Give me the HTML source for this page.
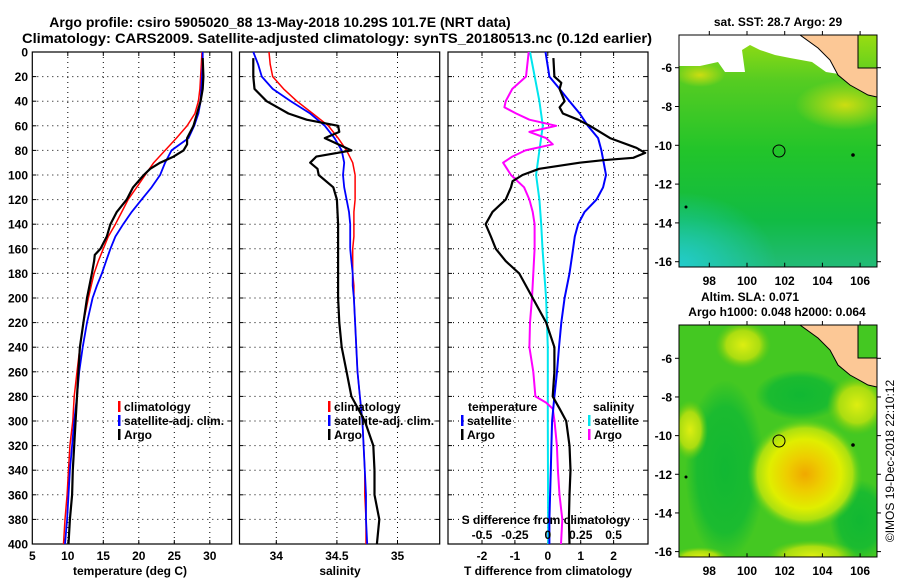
<!DOCTYPE html>
<html><head><meta charset="utf-8"><style>
html,body{margin:0;padding:0;background:#fff;}
svg{display:block;font-family:"Liberation Sans",Arial,sans-serif;font-weight:bold;}
</style></head><body>
<svg id="fig" width="900" height="580" viewBox="0 0 900 580">
<defs>
<linearGradient id="sstg" x1="0" y1="0" x2="0" y2="1">
<stop offset="0" stop-color="#99dd11"/><stop offset="0.2" stop-color="#55cc22"/><stop offset="0.5" stop-color="#22c42a"/><stop offset="0.8" stop-color="#11bb44"/><stop offset="1" stop-color="#22bb77"/></linearGradient>
<radialGradient id="cyanblob" cx="0" cy="1" r="0.7"><stop offset="0" stop-color="#22cccc"/><stop offset="1" stop-color="#22cccc" stop-opacity="0"/></radialGradient>
<radialGradient id="ylw" cx="0.5" cy="0.5" r="0.5"><stop offset="0" stop-color="#ccdd11"/><stop offset="1" stop-color="#ccdd11" stop-opacity="0"/></radialGradient>
<radialGradient id="eddy" cx="0.5" cy="0.5" r="0.5"><stop offset="0" stop-color="#f0a800"/><stop offset="0.3" stop-color="#eecc00"/><stop offset="0.62" stop-color="#e0ee00"/><stop offset="0.82" stop-color="#aae011"/><stop offset="1" stop-color="#44cc22" stop-opacity="0"/></radialGradient>
<radialGradient id="ylw2" cx="0.5" cy="0.5" r="0.5"><stop offset="0" stop-color="#ddee11"/><stop offset="0.6" stop-color="#aadd11"/><stop offset="1" stop-color="#66cc11" stop-opacity="0"/></radialGradient>
<radialGradient id="dkg" cx="0.5" cy="0.5" r="0.5"><stop offset="0" stop-color="#11b833"/><stop offset="0.7" stop-color="#11b833" stop-opacity="0.8"/><stop offset="1" stop-color="#11b833" stop-opacity="0"/></radialGradient>
<clipPath id="clipTop"><rect x="679" y="35" width="198" height="232"/></clipPath>
<clipPath id="clipBot"><rect x="679" y="325" width="198" height="232"/></clipPath>
</defs>
<g>
<text x="280" y="27" font-size="14" text-anchor="middle">Argo profile: csiro 5905020_88 13-May-2018 10.29S 101.7E (NRT data)</text>
<text x="22" y="43" font-size="14" textLength="630" lengthAdjust="spacingAndGlyphs">Climatology: CARS2009. Satellite-adjusted climatology: synTS_20180513.nc (0.12d earlier)</text>
</g>
<g id="panels"></g>

<!-- SST map -->
<g>
<text x="778" y="26" font-size="12" text-anchor="middle">sat. SST: 28.7 Argo: 29</text>
<g clip-path="url(#clipTop)">
<rect x="679" y="35" width="198" height="232" fill="url(#sstg)"/>
<rect x="679" y="160" width="140" height="107" fill="url(#cyanblob)"/>
<ellipse cx="845" cy="105" rx="50" ry="25" fill="url(#ylw)"/>
<ellipse cx="700" cy="75" rx="25" ry="12" fill="url(#ylw)"/>
<polygon points="679,35 800,35 840,62 845,75 826,72 812,62 790,58 775,55 760,50 750,45 742,50 745,72 725,72 718,62 700,66 690,66 679,66" fill="#fff"/>
<polygon points="800,35 858,35 858,68 877,68 877,97 868,95 850,85 838,75 830,60 818,48" fill="#fcc896" stroke="#000" stroke-width="1"/>
</g>
<rect x="679" y="35" width="198" height="232" fill="none" stroke="#000"/>
<circle cx="779" cy="151" r="6" fill="none" stroke="#000"/>
<circle cx="853" cy="155" r="1.8" fill="#000"/><circle cx="686" cy="207" r="1.5" fill="#000"/>
</g>
<!-- SLA map -->
<g>
<text x="750" y="301" font-size="12" text-anchor="middle">Altim. SLA: 0.071</text>
<text x="777" y="316" font-size="12" text-anchor="middle">Argo h1000: 0.048 h2000: 0.064</text>
<g clip-path="url(#clipBot)">
<rect x="679" y="325" width="198" height="232" fill="#44c822"/>
<ellipse cx="725" cy="470" rx="40" ry="90" fill="url(#dkg)"/>
<ellipse cx="800" cy="395" rx="45" ry="25" fill="url(#dkg)"/>
<ellipse cx="860" cy="520" rx="30" ry="40" fill="url(#dkg)"/>
<ellipse cx="743" cy="345" rx="28" ry="24" fill="url(#ylw2)"/>
<ellipse cx="690" cy="430" rx="18" ry="30" fill="url(#ylw2)"/>
<ellipse cx="857" cy="405" rx="30" ry="30" fill="url(#ylw2)"/>
<ellipse cx="812" cy="556" rx="45" ry="16" fill="url(#ylw2)"/>
<ellipse cx="700" cy="557" rx="28" ry="10" fill="url(#ylw2)"/>
<ellipse cx="805" cy="474" rx="58" ry="56" fill="url(#eddy)"/>
<polygon points="800,325 858,325 858,358 877,358 877,387 868,385 850,375 838,365 830,350 818,338" fill="#fcc896" stroke="#000" stroke-width="1"/>
</g>
<rect x="679" y="325" width="198" height="232" fill="none" stroke="#000"/>
<circle cx="779" cy="441" r="6" fill="none" stroke="#000"/>
<circle cx="853" cy="445" r="1.8" fill="#000"/><circle cx="686" cy="477" r="1.5" fill="#000"/>
</g>
<text transform="translate(894,461) rotate(-90)" font-size="12" font-weight="normal" text-anchor="middle">©IMOS 19-Dec-2018 22:10:12</text>
</svg>
<script>
// ---- data ----
const depths = [0,10,20,30,40,50,60,70,80,90,100,110,120,130,140,150,160,170,180,190,200,220,240,260,280,300,320,340,360,380,400];
const tempClim = [28.9,28.8,28.7,28.6,28.4,27.9,26.8,25.3,23.7,22.1,20.9,19.7,18.5,17.6,16.7,15.7,15.0,14.3,13.7,13.3,12.9,12.2,11.7,11.3,10.9,10.7,10.3,10.1,9.9,9.6,9.4];
const tempSat = [29.0,29.0,28.9,28.8,28.7,28.4,27.8,27.0,24.6,23.7,23.0,21.8,20.4,19.0,17.8,16.7,16.0,15.4,14.8,14.1,13.5,12.7,12.1,11.6,11.3,10.9,10.6,10.3,10.1,9.9,9.6];
const argoDepths = [5,20,30,40,50,60,70,75,80,85,90,95,100,110,120,130,140,150,160,165,170,180,200,220,240,260,280,300,320,340,360,380,400];
const tempArgo = [29.0,29.1,29.0,28.7,28.2,27.7,26.8,26.8,26.3,24.9,23.0,21.6,20.7,19.2,18.3,16.9,16.0,15.5,14.6,13.8,13.7,13.4,12.7,12.2,11.7,11.5,11.3,11.1,10.9,10.7,10.6,10.3,10.1];
const salClim = [33.94,33.95,33.97,34.06,34.17,34.30,34.43,34.51,34.58,34.63,34.65,34.65,34.65,34.64,34.64,34.64,34.63,34.63,34.63,34.64,34.64,34.65,34.66,34.67,34.69,34.71,34.72,34.73,34.73,34.74,34.74];
const salSat = [33.81,33.85,33.88,33.97,34.12,34.28,34.40,34.48,34.54,34.56,34.55,34.56,34.58,34.60,34.61,34.61,34.61,34.62,34.63,34.63,34.64,34.65,34.66,34.67,34.69,34.71,34.72,34.73,34.74,34.74,34.75];
const salArgoDepths = [5,20,30,35,40,45,50,55,60,65,70,75,80,85,90,95,100,110,120,140,160,180,200,220,240,260,280,300,320,340,360,380,400];
const salArgo = [33.81,33.81,33.82,33.87,33.92,34.01,34.10,34.25,34.51,34.52,34.40,34.51,34.62,34.33,34.28,34.34,34.35,34.47,34.50,34.51,34.51,34.51,34.51,34.52,34.54,34.58,34.62,34.73,34.80,34.81,34.81,34.85,34.83];
const dTSatDepths = [0,20,30,40,50,60,70,80,90,100,110,120,130,140,150,160,180,200,220,240,260,280,300,320,340,360,380,400];
const dTSat = [-0.07,0.05,0.36,0.66,0.97,1.22,1.53,1.63,1.70,1.77,1.68,1.48,1.12,0.92,0.82,0.77,0.66,0.51,0.41,0.34,0.28,0.20,0.13,0.11,0.09,0.07,0.05,0.05];
const dTArgoDepths = [5,20,25,30,40,45,50,55,60,70,78,82,86,88,90,95,100,105,110,120,130,140,150,160,170,180,200,220,240,260,280,290,300,320,340,360,380,400];
const dTArgo = [0.17,0.20,0.41,0.36,0.51,0.36,0.46,0.92,1.28,1.89,2.70,2.96,2.60,1.68,0.97,-0.26,-0.77,-1.07,-1.12,-1.28,-1.68,-1.89,-1.73,-1.58,-1.28,-0.87,-0.46,-0.05,0.20,0.20,0.15,0.36,0.56,0.66,0.69,0.66,0.64,0.66];
const dSArgoDepths = [0,20,30,40,45,50,55,60,65,70,75,80,85,90,100,110,120,130,140,160,180,200,220,240,260,280,285,290,300,320,340,360,380,400];
const dSArgo = [-0.145,-0.166,-0.27,-0.32,-0.33,-0.24,-0.14,0.064,-0.14,-0.013,0.038,-0.17,-0.27,-0.34,-0.28,-0.18,-0.14,-0.115,-0.10,-0.10,-0.11,-0.12,-0.135,-0.14,-0.11,-0.094,-0.013,0.038,0.051,0.069,0.077,0.089,0.11,0.10];
const dSSatDepths = [0,40,60,80,100,120,140,160,200,240,280,300,400];
const dSSat = [-0.135,-0.064,-0.038,-0.064,-0.089,-0.064,-0.05,-0.04,-0.013,0,0,0,0.003];
const depthTicks = [0,20,40,60,80,100,120,140,160,180,200,220,240,260,280,300,320,340,360,380,400];
const tempTicks = [5,10,15,20,25,30];
const salTicks = [34,34.5,35];
const salTickLabels = ["34","34.5","35"];
const dTTicks = [-2,-1,0,1,2];
const dSTicks = [-0.5,-0.25,0,0.25,0.5];
const dSTickLabels = ["-0.5","-0.25","0","0.25","0.5"];
const mapLons = [98,100,102,104,106];
const mapLats = [-6,-8,-10,-12,-14,-16];

// ---- scales ----
const top0 = 52, bot0 = 544;
function yDepth(d){ return top0 + (d/400)*(bot0-top0); }
function xTemp(t){ return 32.3 + (t-5)*7.1; }
function xSal(s){ return 276.3 + (s-34)*121.2; }
function xDT(t){ return 547.8 + t*32.9; }
function xDS(s){ return xDT(s*4); }
function xLon(l){ return 709.3 + (l-98)*18.85; }
function yLatTop(l){ return 67.7 + (-6-l)*19.4; }
function yLatBot(l){ return 358.3 + (-6-l)*19.33; }

const NS = "http://www.w3.org/2000/svg";
const root = document.getElementById('panels');
function el(tag, attrs, parent){ const e=document.createElementNS(NS,tag); for(const k in attrs) e.setAttribute(k,attrs[k]); (parent||root).appendChild(e); return e; }
function txt(x,y,s,size,anchor,parent){ const t=el('text',{x:x,y:y,'font-size':size,'text-anchor':anchor||'start'},parent); t.textContent=s; return t; }

function panel(name){
  const g = el('g',{});
  
  
  return g;
}
function frame(g,x0,x1,vticks){
  depthTicks.forEach(d=>{ if(d>0&&d<400){ const y=yDepth(d);
    const l=el('line',{x1:x0,x2:x1,y1:y,y2:y,stroke:'#000','stroke-width':1,'stroke-dasharray':'1,4'},g);
     
    el('line',{x1:x0,x2:x0+4,y1:y,y2:y,stroke:'#000'},g); el('line',{x1:x1-4,x2:x1,y1:y,y2:y,stroke:'#000'},g);} });
  vticks.forEach(x=>{ if(x>x0+1&&x<x1-1){
    const l=el('line',{x1:x,x2:x,y1:top0,y2:bot0,stroke:'#000','stroke-width':1,'stroke-dasharray':'1,4'},g);
     
    el('line',{x1:x,x2:x,y1:bot0-4,y2:bot0,stroke:'#000'},g); el('line',{x1:x,x2:x,y1:top0,y2:top0+4,stroke:'#000'},g);} });
  const r=el('rect',{x:x0,y:top0,width:x1-x0,height:bot0-top0,fill:'none',stroke:'#000','stroke-width':1.2},g);
   
}
function line(g,ds,vs,xf,color,w,name){
  const pts = ds.map((d,i)=>xf(vs[i]).toFixed(1)+','+yDepth(d).toFixed(1)).join(' ');
  const p=el('polyline',{points:pts,fill:'none',stroke:color,'stroke-width':w,'stroke-linejoin':'round'},g);
  
  
}
function legendRow(g,x,y,color,label){
  if(color) el('rect',{x:x,y:y-10,width:2.5,height:11,fill:color},g);
  const t=txt(x+(color?6:0),y,label,12,'start',g);
   
}

// depth labels
const yl = panel('depth-axis');
depthTicks.forEach(d=>{ const t=txt(28,yDepth(d)+4.5,String(d),12,'end',yl);
    });

// panel 1 temperature
const p1 = panel('temperature-panel');
frame(p1,32.3,231.7,tempTicks.map(xTemp));
line(p1,depths,tempClim,xTemp,'#f00',1.5,'climatology-temperature-line');
line(p1,depths,tempSat,xTemp,'#00f',1.8,'satellite-temperature-line');
line(p1,argoDepths,tempArgo,xTemp,'#000',2.2,'argo-temperature-line');
tempTicks.forEach(t=>{ const e=txt(xTemp(t),560,String(t),12,'middle',p1);   });
{const e=txt(130,575,'temperature (deg C)',12,'middle',p1);  }
legendRow(p1,118,411,'#f00','climatology');
legendRow(p1,118,425,'#00f','satellite-adj. clim.');
legendRow(p1,118,439,'#000','Argo');

// panel 2 salinity
const p2 = panel('salinity-panel');
frame(p2,239.5,439.7,salTicks.map(xSal));
line(p2,depths,salClim,xSal,'#f00',1.5,'climatology-salinity-line');
line(p2,depths,salSat,xSal,'#00f',1.8,'satellite-salinity-line');
line(p2,salArgoDepths,salArgo,xSal,'#000',2.2,'argo-salinity-line');
salTicks.forEach((s,i)=>{ const e=txt(xSal(s),560,salTickLabels[i],12,'middle',p2);   });
{const e=txt(340,575,'salinity',12,'middle',p2);  }
legendRow(p2,328,411,'#f00','climatology');
legendRow(p2,328,425,'#00f','satellite-adj. clim.');
legendRow(p2,328,439,'#000','Argo');

// panel 3 differences
const p3 = panel('difference-panel');
frame(p3,448,648,dTTicks.map(xDT));
line(p3,dSSatDepths,dSSat,xDS,'#00e5ee',2,'satellite-salinity-difference-line');
line(p3,dSArgoDepths,dSArgo,xDS,'#f0f',2,'argo-salinity-difference-line');
line(p3,dTSatDepths,dTSat,xDT,'#00f',2,'satellite-temperature-difference-line');
line(p3,dTArgoDepths,dTArgo,xDT,'#000',2.2,'argo-temperature-difference-line');
dTTicks.forEach(t=>{ const e=txt(xDT(t),560,String(t),12,'middle',p3);   });
{const e=txt(548,575,'T difference from climatology',12,'middle',p3);  }
{const e=txt(546,524,'S difference from climatology',12,'middle',p3);  }
dSTicks.forEach((s,i)=>{ const e=txt(xDS(s),539,dSTickLabels[i],12,'middle',p3);   });
legendRow(p3,468,411,null,'temperature');
legendRow(p3,461,425,'#00f','satellite');
legendRow(p3,461,439,'#000','Argo');
legendRow(p3,593,411,null,'salinity');
legendRow(p3,588,425,'#00e5ee','satellite');
legendRow(p3,588,439,'#f0f','Argo');

// map axes
const svg=document.getElementById('fig');
[[yLatTop,285,266.7,35],[yLatBot,575,557.3,325]].forEach(([yf,ly,yb,yt])=>{
  const g=el('g',{},svg);
  
  
  mapLons.forEach(l=>{ const x=xLon(l); el('line',{x1:x,x2:x,y1:yb,y2:yb-4,stroke:'#000'},g); el('line',{x1:x,x2:x,y1:yt,y2:yt-4,stroke:'#000'},g);
    const t=txt(x,ly,String(l),12,'middle',g);   });
  mapLats.forEach(l=>{ const y=yf(l); el('line',{x1:675,x2:679,y1:y,y2:y,stroke:'#000'},g); el('line',{x1:877,x2:881,y1:y,y2:y,stroke:'#000'},g);
    const t=txt(672,y+4.5,String(l),12,'end',g);   });
});
</script>
</body></html>
